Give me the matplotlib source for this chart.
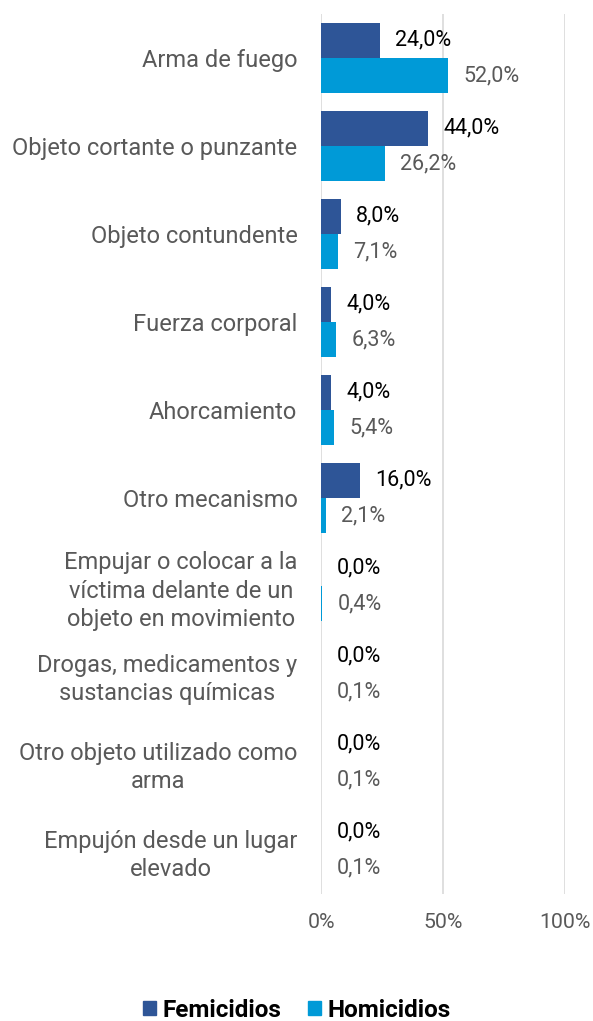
import matplotlib.pyplot as plt
import numpy as np
from matplotlib.patches import Patch

plt.rcParams['font.family'] = ['Roboto', 'DejaVu Sans']

categorias = [
    "Arma de fuego",
    "Objeto cortante o punzante",
    "Objeto contundente",
    "Fuerza corporal",
    "Ahorcamiento",
    "Otro mecanismo",
    "Empujar o colocar a la\nvíctima delante de un\nobjeto en movimiento",
    "Drogas, medicamentos y\nsustancias químicas",
    "Otro objeto utilizado como\narma",
    "Empujón desde un lugar\nelevado",
]
femicidios = [24.0, 44.0, 8.0, 4.0, 4.0, 16.0, 0.0, 0.0, 0.0, 0.0]
homicidios = [52.0, 26.2, 7.1, 6.3, 5.4, 2.1, 0.4, 0.1, 0.1, 0.1]

col_fem = "#2E5597"
col_hom = "#009AD7"
gris = "#595959"

W, H = 593, 1021
fig = plt.figure(figsize=(W / 100, H / 100), dpi=100)
ax = fig.add_axes([321 / W, 1 - 894 / H, (565 - 321) / W, (894 - 14) / H])

y = np.arange(len(categorias))
h = 0.4
ax.barh(y - h / 2, femicidios, height=h, color=col_fem, linewidth=0, zorder=3)
ax.barh(y + h / 2, homicidios, height=h, color=col_hom, linewidth=0, zorder=3)

# etiquetas de valor con coma decimal
for i, (f, hv) in enumerate(zip(femicidios, homicidios)):
    ax.annotate(f"{f:.1f}%".replace(".", ","), (f, i - h / 2), xytext=(11, 0),
                textcoords="offset points", va="center", ha="left",
                fontsize=15.5, color="black")
    ax.annotate(f"{hv:.1f}%".replace(".", ","), (hv, i + h / 2), xytext=(11, 0),
                textcoords="offset points", va="center", ha="left",
                fontsize=15.5, color=gris)

ax.set_xlim(0, 100)
ax.set_ylim(len(categorias) - 0.5, -0.5)
ax.set_xticks([0, 50, 100])
ax.set_xticklabels(["0%", "50%", "100%"], fontsize=15.3, color=gris)
ax.set_yticks(y)
ax.set_yticklabels(categorias, fontsize=17, color=gris, linespacing=1.3,
                   multialignment="center")
ax.tick_params(axis="y", length=0, pad=17)
ax.tick_params(axis="x", length=0, pad=14)
ax.grid(axis="x", color="#D9D9D9", linewidth=1.2, zorder=0)
for s in ax.spines.values():
    s.set_visible(False)

handles = [Patch(color=col_fem, label="Femicidios"), Patch(color=col_hom, label="Homicidios")]
leg = fig.legend(handles=handles, loc="center", bbox_to_anchor=(0.5, 1 - 1010 / H), ncol=2,
                 frameon=False, handlelength=0.55, handleheight=0.55, handletextpad=0.25,
                 columnspacing=1.1, borderpad=0.1, prop={"weight": "bold", "size": 17.5})

fig.savefig("out.png", dpi=100)
